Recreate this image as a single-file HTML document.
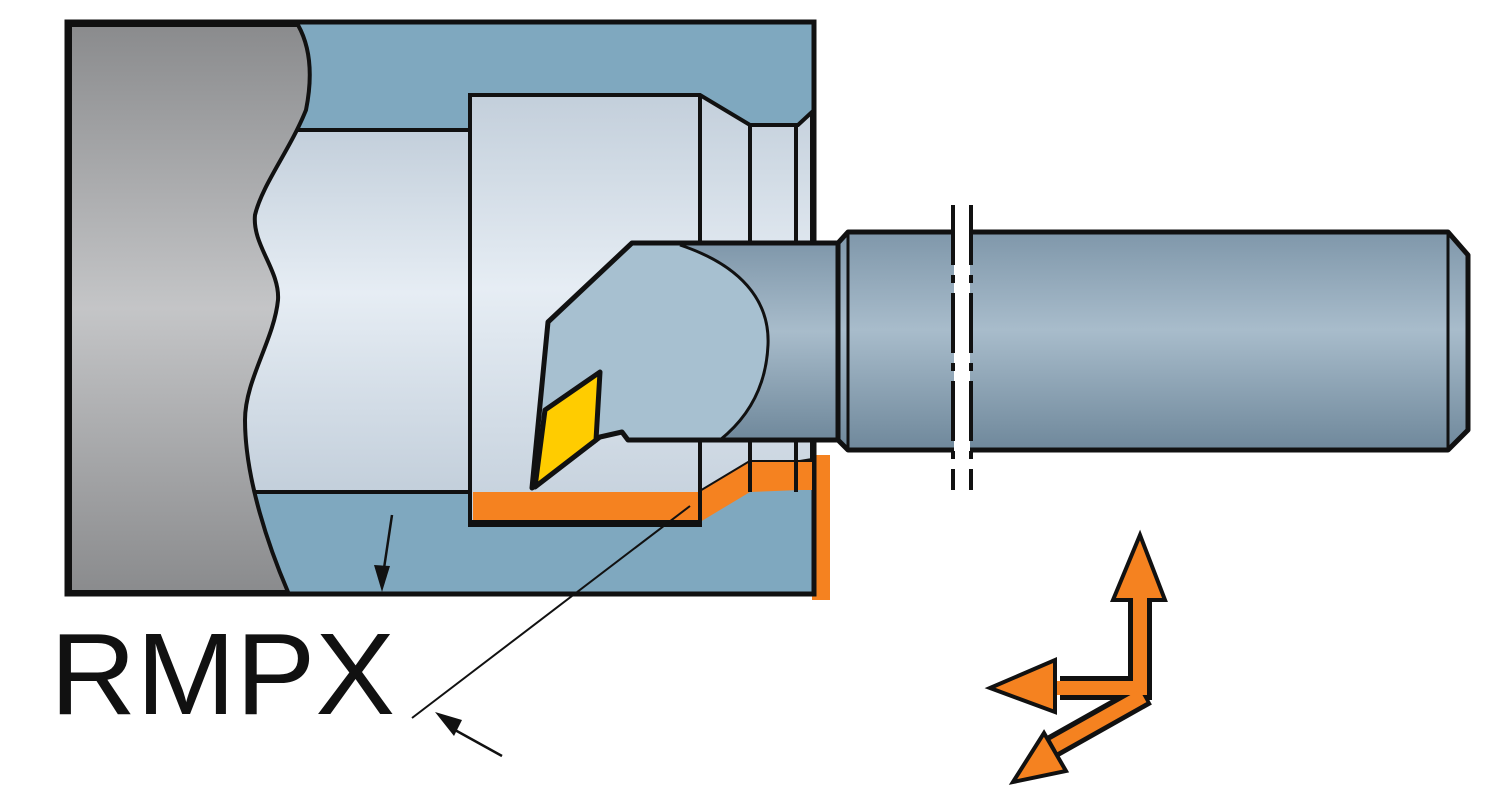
<!DOCTYPE html>
<html><head><style>html,body{margin:0;padding:0;background:#fff;}svg{display:block}</style></head>
<body>
<svg width="1500" height="809" viewBox="0 0 1500 809" xmlns="http://www.w3.org/2000/svg">
<defs>
<linearGradient id="gray" x1="0" y1="0" x2="0" y2="1">
<stop offset="0" stop-color="#8a8b8d"/><stop offset="0.5" stop-color="#c4c5c7"/><stop offset="1" stop-color="#8a8b8d"/></linearGradient>
<linearGradient id="light" x1="0" y1="0" x2="0" y2="1">
<stop offset="0" stop-color="#c3cfdb"/><stop offset="0.45" stop-color="#e6edf4"/><stop offset="1" stop-color="#c3cfdb"/></linearGradient>
<linearGradient id="shank" x1="0" y1="0" x2="0" y2="1">
<stop offset="0" stop-color="#7f97aa"/><stop offset="0.45" stop-color="#a8bccb"/><stop offset="1" stop-color="#6f889b"/></linearGradient>
</defs>
<rect x="812" y="455" width="18" height="145" fill="#f58220"/>
<rect x="67" y="22" width="747" height="572" fill="#7fa8bf" stroke="#111" stroke-width="5"/>
<rect x="236" y="130" width="236" height="362" fill="url(#light)" stroke="#111" stroke-width="4"/>
<path d="M70,25 L298,25 C312,50 312,80 306,110 C290,150 262,185 255,215 C252,245 280,270 278,300 C274,340 245,380 245,420 C245,480 270,550 288,592 L70,592 Z" fill="url(#gray)" stroke="#111" stroke-width="4"/>
<path d="M470,95 L700,95 L750,125 L798,125 L812,112 L812,460 L800,462 L750,462 L700,492 L700,525 L470,525 Z" fill="url(#light)" stroke="#111" stroke-width="4"/>
<path d="M473,492 L700,492 L750,462 L812,462 L812,490 L800,490 L750,492 L700,522 L473,522 Z" fill="#f58220"/>
<line x1="700" y1="95" x2="700" y2="525" stroke="#111" stroke-width="4"/>
<line x1="750" y1="125" x2="750" y2="492" stroke="#111" stroke-width="4"/>
<line x1="796" y1="125" x2="796" y2="492" stroke="#111" stroke-width="4"/>
<line x1="700" y1="522" x2="470" y2="522" stroke="#111" stroke-width="4"/>
<path d="M632,243 L838,243 L838,440 L628,440 L622,432 L600,437 L532,488 L548,322 Z" fill="#a7c0d0" stroke="#111" stroke-width="5" stroke-linejoin="round"/>
<path d="M680,245 C740,265 770,300 768,345 C766,390 745,420 720,440 L838,440 L838,243 Z" fill="url(#shank)"/>
<path d="M680,245 C740,265 770,300 768,345 C766,390 745,420 720,440" fill="none" stroke="#111" stroke-width="3"/>
<line x1="632" y1="243" x2="838" y2="243" stroke="#111" stroke-width="5"/>
<line x1="628" y1="440" x2="838" y2="440" stroke="#111" stroke-width="5"/>
<path d="M535,487 L545,410 L600,372 L596,440 Z" fill="#ffcc00" stroke="#111" stroke-width="5" stroke-linejoin="round"/>
<path d="M838,243 L848,232 L1448,232 L1468,255 L1468,430 L1448,450 L848,450 L838,440 Z" fill="url(#shank)" stroke="#111" stroke-width="5" stroke-linejoin="round"/>
<line x1="848" y1="232" x2="848" y2="450" stroke="#111" stroke-width="3"/>
<line x1="1448" y1="232" x2="1448" y2="450" stroke="#111" stroke-width="3"/>
<rect x="954" y="210" width="16" height="280" fill="#fff"/>
<line x1="953" y1="205" x2="953" y2="490" stroke="#111" stroke-width="4" stroke-dasharray="60,10,8,10"/>
<line x1="971" y1="205" x2="971" y2="490" stroke="#111" stroke-width="4" stroke-dasharray="60,10,8,10"/>
<line x1="392" y1="515" x2="383" y2="575" stroke="#111" stroke-width="2.5"/>
<path d="M374,565 L382,592 L390,566 Z" fill="#111"/>
<line x1="690" y1="506" x2="412" y2="718" stroke="#111" stroke-width="2"/>
<line x1="502" y1="756" x2="455" y2="730" stroke="#111" stroke-width="2.5"/>
<path d="M435,712 L462,720 L454,736 Z" fill="#111"/>
<text x="50" y="714" font-family="Liberation Sans, sans-serif" font-size="116" textLength="345" lengthAdjust="spacingAndGlyphs" fill="#111">RMPX</text>
<!-- arrows -->
<g fill="none" stroke-linecap="butt" stroke-linejoin="miter">
<polyline points="1140,598 1140,688 1060,688" stroke="#111" stroke-width="24"/>
<line x1="1146" y1="694" x2="1050" y2="748" stroke="#111" stroke-width="24"/>
</g>
<path d="M1140,535 L1165,600 L1113,600 Z" fill="#f58220" stroke="#111" stroke-width="4"/>
<path d="M990,688 L1055,660 L1055,712 Z" fill="#f58220" stroke="#111" stroke-width="4"/>
<path d="M1013,782 L1044,733 L1066,771 Z" fill="#f58220" stroke="#111" stroke-width="4"/>
<g fill="none" stroke="#f58220" stroke-linecap="butt" stroke-linejoin="miter">
<polyline points="1140,596 1140,688 1057,688" stroke-width="14"/>
<line x1="1143" y1="696" x2="1054" y2="746" stroke-width="14"/>
</g>
</svg>
</body></html>
